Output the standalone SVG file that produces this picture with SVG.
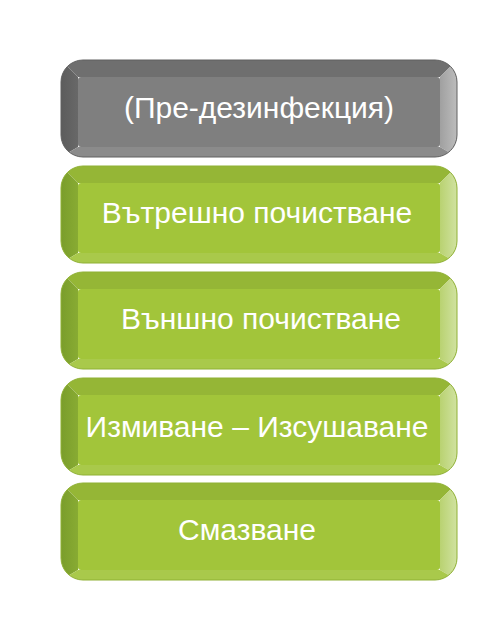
<svg xmlns="http://www.w3.org/2000/svg" width="500" height="630" viewBox="0 0 500 630">
<defs>
<clipPath id="rr"><rect x="0" y="0" width="396" height="97" rx="22" ry="22"/></clipPath>
<linearGradient id="gRight" x1="0" y1="0" x2="1" y2="0"><stop offset="0" stop-color="#b9d271"/><stop offset="1" stop-color="#d0e2a0"/></linearGradient>
<linearGradient id="gLeft" x1="0" y1="0" x2="1" y2="0"><stop offset="0" stop-color="#7a9d2b"/><stop offset="1" stop-color="#88ab33"/></linearGradient>
<linearGradient id="kRight" x1="0" y1="0" x2="1" y2="0"><stop offset="0" stop-color="#a0a0a0"/><stop offset="1" stop-color="#bcbcbc"/></linearGradient>
<linearGradient id="kLeft" x1="0" y1="0" x2="1" y2="0"><stop offset="0" stop-color="#5c5c5c"/><stop offset="1" stop-color="#686868"/></linearGradient>
</defs>
<style>
.lbl{font-family:"Liberation Sans",Arial,sans-serif;font-size:30px;fill:#ffffff;text-anchor:middle}
.green .top{fill:#95b636}.green .left{fill:url(#gLeft)}.green .right{fill:url(#gRight)}.green .bot{fill:#a9c94b}.green .face{fill:#a2c53a}.green .edge{fill:none;stroke:#8fb034;stroke-width:1}
.gray .top{fill:#6f6f6f}.gray .left{fill:url(#kLeft)}.gray .right{fill:url(#kRight)}.gray .bot{fill:#8b8b8b}.gray .face{fill:#7f7f7f}.gray .edge{fill:none;stroke:#606060;stroke-width:1}
</style>
<rect width="500" height="630" fill="#ffffff"/>
<g id="connectors"/>
<g id="node1" class="gray" transform="translate(61,60)">
<g clip-path="url(#rr)">
<polygon class="top" points="0,0 396,0 379,17 17,17"/>
<polygon class="left" points="0,0 17,17 17,87 0,97"/>
<polygon class="right" points="396,0 379,17 379,87 396,97"/>
<polygon class="bot" points="0,97 17,87 379,87 396,97"/>
</g>
<rect class="face" x="17" y="17" width="362" height="70" rx="3"/>
<rect class="edge" x="0" y="0" width="396" height="97" rx="22" ry="22"/>
<text class="lbl" x="198" y="58">(Пре-дезинфекция)</text>
</g>
<g id="node2" class="green" transform="translate(61,166)">
<g clip-path="url(#rr)">
<polygon class="top" points="0,0 396,0 379,17 17,17"/>
<polygon class="left" points="0,0 17,17 17,87 0,97"/>
<polygon class="right" points="396,0 379,17 379,87 396,97"/>
<polygon class="bot" points="0,97 17,87 379,87 396,97"/>
</g>
<rect class="face" x="17" y="17" width="362" height="70" rx="3"/>
<rect class="edge" x="0" y="0" width="396" height="97" rx="22" ry="22"/>
<text class="lbl" x="196" y="57">Вътрешно почистване</text>
</g>
<g id="node3" class="green" transform="translate(61,272)">
<g clip-path="url(#rr)">
<polygon class="top" points="0,0 396,0 379,17 17,17"/>
<polygon class="left" points="0,0 17,17 17,87 0,97"/>
<polygon class="right" points="396,0 379,17 379,87 396,97"/>
<polygon class="bot" points="0,97 17,87 379,87 396,97"/>
</g>
<rect class="face" x="17" y="17" width="362" height="70" rx="3"/>
<rect class="edge" x="0" y="0" width="396" height="97" rx="22" ry="22"/>
<text class="lbl" x="200" y="57">Външно почистване</text>
</g>
<g id="node4" class="green" transform="translate(61,378)">
<g clip-path="url(#rr)">
<polygon class="top" points="0,0 396,0 379,17 17,17"/>
<polygon class="left" points="0,0 17,17 17,87 0,97"/>
<polygon class="right" points="396,0 379,17 379,87 396,97"/>
<polygon class="bot" points="0,97 17,87 379,87 396,97"/>
</g>
<rect class="face" x="17" y="17" width="362" height="70" rx="3"/>
<rect class="edge" x="0" y="0" width="396" height="97" rx="22" ry="22"/>
<text class="lbl" x="196" y="59">Измиване – Изсушаване</text>
</g>
<g id="node5" class="green" transform="translate(61,483)">
<g clip-path="url(#rr)">
<polygon class="top" points="0,0 396,0 379,17 17,17"/>
<polygon class="left" points="0,0 17,17 17,87 0,97"/>
<polygon class="right" points="396,0 379,17 379,87 396,97"/>
<polygon class="bot" points="0,97 17,87 379,87 396,97"/>
</g>
<rect class="face" x="17" y="17" width="362" height="70" rx="3"/>
<rect class="edge" x="0" y="0" width="396" height="97" rx="22" ry="22"/>
<text class="lbl" x="186" y="57">Смазване</text>
</g>
</svg>
